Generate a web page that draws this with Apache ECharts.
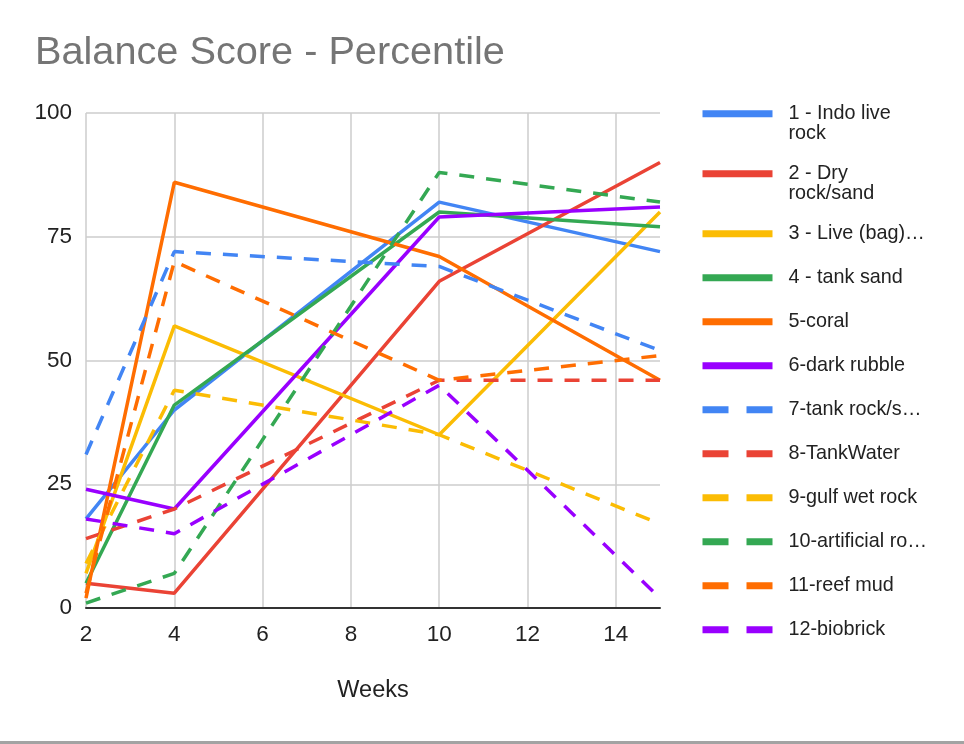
<!DOCTYPE html>
<html>
<head>
<meta charset="utf-8">
<script src="https://cdn.jsdelivr.net/npm/echarts@6/dist/echarts.min.js"></script>
<style>
html,body{margin:0;padding:0;background:#fff;}
#chart{width:964px;height:744px;}
</style>
</head>
<body>
<div id="chart"></div>
<script>
// ---- data ----
const weeks = [2, 4, 10, 15];
const seriesNames = [
  "1 - Indo live rock", "2 - Dry rock/sand", "3 - Live (bag)\u2026", "4 - tank sand",
  "5-coral", "6-dark rubble", "7-tank rock/s\u2026", "8-TankWater",
  "9-gulf wet rock", "10-artificial ro\u2026", "11-reef mud", "12-biobrick"
];
const legendLabels = [
  "1 - Indo live\nrock", "2 - Dry\nrock/sand", "3 - Live (bag)\u2026", "4 - tank sand",
  "5-coral", "6-dark rubble", "7-tank rock/s\u2026", "8-TankWater",
  "9-gulf wet rock", "10-artificial ro\u2026", "11-reef mud", "12-biobrick"
];
const s1  = [18, 40, 82, 72];
const s2  = [5, 3, 66, 90];
const s3  = [7, 57, 35, 80];
const s4  = [5, 41, 80, 77];
const s5  = [2, 86, 71, 46];
const s6  = [24, 20, 79, 81];
const s7  = [31, 72, 69, 52];
const s8  = [14, 20, 46, 46];
const s9  = [9, 44, 35, 17];
const s10 = [1, 7, 88, 82];
const s11 = [3, 70, 46, 51];
const s12 = [18, 15, 45, 2];
const values = [s1, s2, s3, s4, s5, s6, s7, s8, s9, s10, s11, s12];
const dashed = [false,false,false,false,false,false,true,true,true,true,true,true];
const colors = ['#4285F4','#EA4335','#FBBC04','#34A853','#FF6D01','#9900FF',
                '#4285F4','#EA4335','#FBBC04','#34A853','#FF6D01','#9900FF'];

// ---- chart ----
const chart = echarts.init(document.getElementById('chart'), null, {renderer: 'canvas'});
const FONT = '"Liberation Sans", Arial, sans-serif';
const labelMap = {};
seriesNames.forEach((n, i) => labelMap[n] = legendLabels[i]);

const series = seriesNames.map((name, i) => ({
  name: name,
  type: 'line',
  data: weeks.map((w, j) => [w, values[i][j]]),
  symbol: 'none',
  color: colors[i],
  lineStyle: {width: 3.5, color: colors[i], type: dashed[i] ? [15, 12] : 'solid'},
  emphasis: {disabled: true},
  animation: false
}));

function legendItem(i) {
  return {
    name: seriesNames[i],
    lineStyle: {width: 7, type: dashed[i] ? [26, 18, 26, 30] : [70, 30]},
  };
}
const legendCommon = {
  orient: 'vertical',
  left: 699,
  padding: 0,
  itemWidth: 81,
  itemHeight: 20,
  itemGap: 24,
  itemStyle: {opacity: 0},
  textStyle: {fontFamily: FONT, fontSize: 19.8, color: '#222', lineHeight: 20},
  formatter: n => labelMap[n],
  selectedMode: false
};
const legends = [
  Object.assign({}, legendCommon, {top: 83.7, data: [legendItem(0)],
    formatter: n => '\n' + labelMap[n]}),
  Object.assign({}, legendCommon, {top: 143.7, data: [legendItem(1)],
    formatter: n => '\n' + labelMap[n]}),
  Object.assign({}, legendCommon, {top: 223.7, data: [2,3,4,5,6,7,8,9,10,11].map(legendItem)})
];

chart.setOption({
  animation: false,
  backgroundColor: '#ffffff',
  title: {
    text: 'Balance Score - Percentile',
    left: 35, top: 33, padding: 0,
    textStyle: {fontFamily: FONT, fontSize: 39.7, fontWeight: 'normal', color: '#757575'}
  },
  legend: legends,
  grid: {left: 86, right: 304, top: 113, bottom: 136, containLabel: false},
  xAxis: {
    type: 'value', min: 2, max: 15, interval: 2,
    name: 'Weeks', nameLocation: 'middle', nameGap: 71,
    nameTextStyle: {fontFamily: FONT, fontSize: 23.5, color: '#222'},
    axisLine: {show: true, lineStyle: {color: '#333', width: 2}},
    axisTick: {show: false},
    axisLabel: {fontFamily: FONT, fontSize: 22.5, color: '#222', margin: 15, showMaxLabel: false},
    splitLine: {show: true, showMinLine: true, showMaxLine: false, lineStyle: {color: '#cccccc', width: 1.5}}
  },
  yAxis: {
    type: 'value', min: 0, max: 100, interval: 25,
    axisLine: {show: false},
    axisTick: {show: false},
    axisLabel: {fontFamily: FONT, fontSize: 22.5, color: '#222', margin: 14},
    splitLine: {show: true, lineStyle: {color: '#cccccc', width: 1.5}}
  },
  graphic: [{
    type: 'rect', left: 0, top: 741, shape: {width: 964, height: 3},
    style: {fill: '#a3a3a3'}, silent: true
  }],
  series: series
});
</script>
</body>
</html>
